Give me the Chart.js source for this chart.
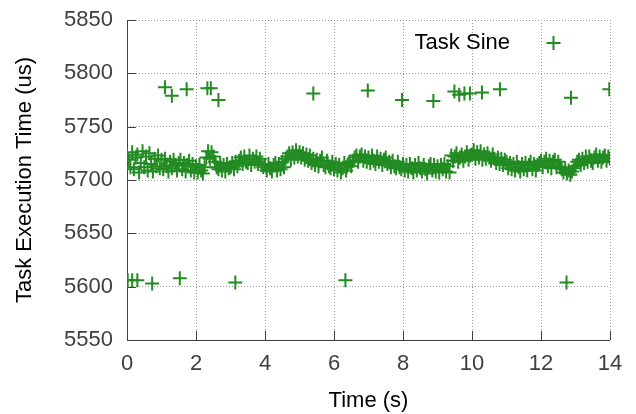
<!DOCTYPE html>
<html>
<head>
<meta charset="utf-8">
<title>Task Sine</title>
<script src="https://cdn.jsdelivr.net/npm/chart.js"></script>
<style>
  body { margin: 0; background: #fff; }
  #wrap { width: 636px; height: 414px; }
</style>
</head>
<body>
<div id="wrap"><canvas id="chart" width="636" height="414"></canvas></div>
<script>
const seriesName = 'Task Sine';

// main band, one row per second
const bandTimes = [
  0.00, 0.05, 0.10, 0.15, 0.20, 0.25, 0.30, 0.35, 0.40, 0.45, 0.50, 0.55, 0.60, 0.65, 0.70, 0.75, 0.80, 0.85, 0.90, 0.95,
  1.00, 1.05, 1.10, 1.15, 1.20, 1.25, 1.30, 1.35, 1.40, 1.45, 1.50, 1.55, 1.60, 1.65, 1.70, 1.75, 1.80, 1.85, 1.90, 1.95,
  2.00, 2.05, 2.10, 2.15, 2.20, 2.25, 2.30, 2.35, 2.40, 2.45, 2.50, 2.55, 2.60, 2.65, 2.70, 2.75, 2.80, 2.85, 2.90, 2.95,
  3.00, 3.05, 3.10, 3.15, 3.20, 3.25, 3.30, 3.35, 3.40, 3.45, 3.50, 3.55, 3.60, 3.65, 3.70, 3.75, 3.80, 3.85, 3.90, 3.95,
  4.00, 4.05, 4.10, 4.15, 4.20, 4.25, 4.30, 4.35, 4.40, 4.45, 4.50, 4.55, 4.60, 4.65, 4.70, 4.75, 4.80, 4.85, 4.90, 4.95,
  5.00, 5.05, 5.10, 5.15, 5.20, 5.25, 5.30, 5.35, 5.40, 5.45, 5.50, 5.55, 5.60, 5.65, 5.70, 5.75, 5.80, 5.85, 5.90, 5.95,
  6.00, 6.05, 6.10, 6.15, 6.20, 6.25, 6.30, 6.35, 6.40, 6.45, 6.50, 6.55, 6.60, 6.65, 6.70, 6.75, 6.80, 6.85, 6.90, 6.95,
  7.00, 7.05, 7.10, 7.15, 7.20, 7.25, 7.30, 7.35, 7.40, 7.45, 7.50, 7.55, 7.60, 7.65, 7.70, 7.75, 7.80, 7.85, 7.90, 7.95,
  8.00, 8.05, 8.10, 8.15, 8.20, 8.25, 8.30, 8.35, 8.40, 8.45, 8.50, 8.55, 8.60, 8.65, 8.70, 8.75, 8.80, 8.85, 8.90, 8.95,
  9.00, 9.05, 9.10, 9.15, 9.20, 9.25, 9.30, 9.35, 9.40, 9.45, 9.50, 9.55, 9.60, 9.65, 9.70, 9.75, 9.80, 9.85, 9.90, 9.95,
  10.00, 10.05, 10.10, 10.15, 10.20, 10.25, 10.30, 10.35, 10.40, 10.45, 10.50, 10.55, 10.60, 10.65, 10.70, 10.75, 10.80, 10.85, 10.90, 10.95,
  11.00, 11.05, 11.10, 11.15, 11.20, 11.25, 11.30, 11.35, 11.40, 11.45, 11.50, 11.55, 11.60, 11.65, 11.70, 11.75, 11.80, 11.85, 11.90, 11.95,
  12.00, 12.05, 12.10, 12.15, 12.20, 12.25, 12.30, 12.35, 12.40, 12.45, 12.50, 12.55, 12.60, 12.65, 12.70, 12.75, 12.80, 12.85, 12.90, 12.95,
  13.00, 13.05, 13.10, 13.15, 13.20, 13.25, 13.30, 13.35, 13.40, 13.45, 13.50, 13.55, 13.60, 13.65, 13.70, 13.75, 13.80, 13.85, 13.90, 13.95, 14.00
];
const bandValues = [
  5723, 5719, 5712, 5726, 5710, 5721, 5724, 5707, 5716, 5727, 5712, 5722, 5709, 5725, 5715, 5708, 5720, 5713, 5723, 5711,
  5719, 5710, 5720, 5713, 5708, 5717, 5711, 5719, 5714, 5709, 5716, 5719, 5710, 5716, 5708, 5714, 5718, 5709, 5715, 5707,
  5713, 5707, 5714, 5709, 5706, 5712, 5721, 5727, 5720, 5726, 5722, 5717, 5712, 5710, 5716, 5709, 5714, 5708, 5715, 5711,
  5712, 5716, 5710, 5717, 5713, 5718, 5721, 5715, 5722, 5717, 5716, 5723, 5714, 5720, 5717, 5722, 5715, 5720, 5714, 5712,
  5714, 5709, 5715, 5711, 5708, 5714, 5716, 5709, 5715, 5710, 5717, 5712, 5720, 5722, 5725, 5719, 5726, 5721, 5728, 5722,
  5726, 5721, 5725, 5719, 5724, 5718, 5723, 5716, 5720, 5714, 5719, 5713, 5718, 5721, 5714, 5712, 5718, 5713, 5711, 5717,
  5710, 5715, 5709, 5714, 5707, 5711, 5716, 5709, 5714, 5717, 5713, 5718, 5721, 5723, 5717, 5722, 5724, 5718, 5722, 5717,
  5721, 5716, 5723, 5718, 5715, 5722, 5717, 5720, 5714, 5719, 5721, 5715, 5717, 5712, 5718, 5713, 5711, 5717, 5712, 5710,
  5715, 5709, 5714, 5708, 5715, 5711, 5707, 5714, 5709, 5716, 5711, 5708, 5714, 5710, 5706, 5713, 5715, 5709, 5714, 5708,
  5713, 5707, 5714, 5710, 5715, 5708, 5713, 5707, 5723, 5718, 5722, 5725, 5717, 5721, 5724, 5718, 5722, 5726, 5719, 5723,
  5724, 5728, 5720, 5726, 5721, 5727, 5719, 5724, 5720, 5725, 5721, 5718, 5724, 5720, 5716, 5721, 5715, 5720, 5714, 5719,
  5717, 5711, 5716, 5710, 5715, 5709, 5717, 5712, 5708, 5715, 5710, 5716, 5709, 5714, 5717, 5710, 5715, 5709, 5714, 5716,
  5718, 5712, 5717, 5720, 5713, 5718, 5711, 5717, 5719, 5712, 5717, 5712, 5710, 5707, 5711, 5706, 5709, 5705, 5708, 5711,
  5713, 5717, 5719, 5714, 5720, 5716, 5722, 5717, 5722, 5718, 5716, 5721, 5724, 5718, 5722, 5717, 5721, 5723, 5718, 5722, 5720
];

// slow samples above the band
const highTimes = [1.10, 1.30, 1.73, 2.33, 2.43, 2.65, 5.40, 6.98, 7.97, 8.88, 9.49, 9.63, 9.78, 9.94, 10.29, 10.81, 12.87, 13.98];
const highValues = [5787, 5779, 5785, 5786, 5786, 5775, 5781, 5784, 5775, 5774, 5783, 5780, 5781, 5781, 5782, 5785, 5777, 5785];

// fast samples below the band
const lowTimes = [0.02, 0.15, 0.30, 0.73, 1.53, 3.14, 6.33, 12.74];
const lowValues = [5606, 5606, 5606, 5603, 5608, 5604, 5606, 5604];

const green = 'rgb(34,139,34)';
const axisColor = '#404040';
const fontFamily = '"Liberation Sans", Arial, Helvetica, sans-serif';

function toPoints(xs, ys) {
  return xs.map((x, i) => ({ x: x, y: ys[i] }));
}

const points = toPoints(bandTimes, bandValues)
  .concat(toPoints(highTimes, highValues))
  .concat(toPoints(lowTimes, lowValues));

// gnuplot style: inward tick marks, solid left/bottom axes, legend with marker on the right
const frame = {
  id: 'frame',
  beforeDatasetsDraw(chart) {
    const ctx = chart.ctx, area = chart.chartArea;
    const xs = chart.scales.x, ys = chart.scales.y;
    ctx.save();
    ctx.strokeStyle = axisColor;
    ctx.lineWidth = 1;
    ctx.setLineDash([]);
    ctx.beginPath();
    ctx.moveTo(area.left + 0.5, area.top);
    ctx.lineTo(area.left + 0.5, area.bottom + 0.5);
    ctx.lineTo(area.right, area.bottom + 0.5);
    xs.ticks.forEach(t => {
      const px = Math.round(xs.getPixelForValue(t.value)) + 0.5;
      ctx.moveTo(px, area.bottom);
      ctx.lineTo(px, area.bottom - 9);
    });
    ys.ticks.forEach(t => {
      const py = Math.round(ys.getPixelForValue(t.value)) + 0.5;
      ctx.moveTo(area.left, py);
      ctx.lineTo(area.left + 9, py);
    });
    ctx.stroke();
    ctx.restore();
  },
  afterDraw(chart) {
    const ctx = chart.ctx, area = chart.chartArea;
    const ly = area.top + 23;
    ctx.save();
    ctx.font = '22px ' + fontFamily;
    ctx.fillStyle = '#000';
    ctx.textAlign = 'right';
    ctx.textBaseline = 'middle';
    ctx.fillText(chart.data.datasets[0].label, area.right - 100, ly);
    const mx = area.right - 56.5;
    ctx.strokeStyle = green;
    ctx.lineWidth = 2;
    ctx.beginPath();
    ctx.moveTo(mx - 7, ly); ctx.lineTo(mx + 7, ly);
    ctx.moveTo(mx, ly - 7); ctx.lineTo(mx, ly + 7);
    ctx.stroke();
    ctx.restore();
  }
};

new Chart(document.getElementById('chart').getContext('2d'), {
  type: 'scatter',
  data: {
    datasets: [{
      label: seriesName,
      data: points,
      pointStyle: 'cross',
      pointRadius: 7,
      pointHoverRadius: 7,
      borderWidth: 2,
      borderColor: green,
      backgroundColor: green
    }]
  },
  options: {
    responsive: false,
    animation: false,
    layout: { padding: { top: 20, right: 26, left: 0, bottom: 0 } },
    plugins: { legend: { display: false }, tooltip: { enabled: false } },
    scales: {
      x: {
        type: 'linear',
        min: 0,
        max: 14,
        afterFit: s => { s.height = 74; s.paddingLeft = 0; s.paddingRight = 0; },
        ticks: { stepSize: 2, color: axisColor, padding: 11, font: { size: 22, family: fontFamily }, callback: v => String(v) },
        grid: { color: '#9a9a9a', lineWidth: 1, drawTicks: false },
        border: { display: false, dash: [1, 2] },
        title: { display: true, text: 'Time (s)', color: '#000', padding: { top: 0, bottom: 0 }, font: { size: 22, family: fontFamily } }
      },
      y: {
        min: 5550,
        max: 5850,
        afterFit: s => { s.width = 127; s.paddingTop = 0; s.paddingBottom = 0; },
        ticks: { stepSize: 50, color: axisColor, padding: 14, font: { size: 22, family: fontFamily }, callback: v => String(v) },
        grid: { color: '#9a9a9a', lineWidth: 1, drawTicks: false },
        border: { display: false, dash: [1, 2] },
        title: { display: true, text: 'Task Execution Time (us)', color: '#000', padding: { top: 12, bottom: 0 }, font: { size: 22, family: fontFamily } }
      }
    }
  },
  plugins: [frame]
});
</script>
</body>
</html>
